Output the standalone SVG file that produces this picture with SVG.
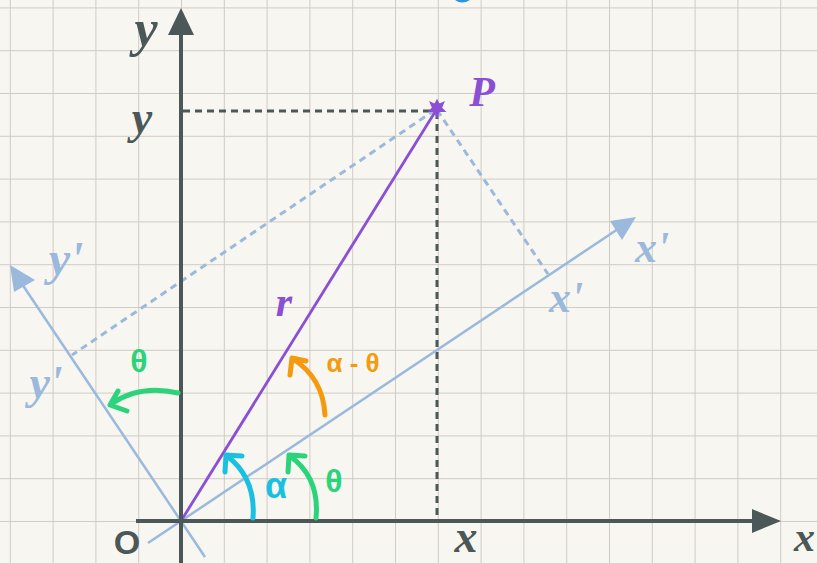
<svg xmlns="http://www.w3.org/2000/svg" width="817" height="563" viewBox="0 0 817 563">
<style>
.lbl{font-family:"Liberation Serif","DejaVu Serif",serif;font-style:italic;font-weight:bold;text-anchor:middle}
.sans{font-family:"Liberation Sans","DejaVu Sans",sans-serif;font-style:normal;text-anchor:middle;font-weight:bold}
.dark{fill:#4b5857}
.lb{fill:#9ab9dc}
.axis{stroke:#4b5857;stroke-width:4;fill:none}
.rot{stroke:#9ab9dc;stroke-width:2.5;fill:none}
.dd{stroke:#4b5857;stroke-width:3;stroke-dasharray:7 5;fill:none}
.bd{stroke:#9ab9dc;stroke-width:3;stroke-dasharray:7 5;fill:none}
.arc{stroke-width:5;fill:none;stroke-linecap:round;stroke-linejoin:round}
</style>
<defs>
<pattern id="grid" x="9.8" y="7.4" width="42.8" height="42.8" patternUnits="userSpaceOnUse">
<path d="M0 0H42.8M0 0V42.8" stroke="#d0cbc4" stroke-width="2" fill="none"/>
</pattern>
</defs>
<rect width="817" height="563" fill="#f8f6f1"/>
<rect width="817" height="563" fill="url(#grid)"/>
<path d="M455 0 Q462 5 470 0 Z" fill="#2b95e0"/>
<g id="connectors">
<line class="dd" x1="183" y1="111" x2="434" y2="111"/>
<line class="dd" x1="437" y1="112" x2="437" y2="519"/>
<line class="bd" x1="435" y1="110" x2="72" y2="355"/>
<line class="bd" x1="437" y1="110" x2="548" y2="274"/>
<line class="rot" x1="148" y1="543" x2="618" y2="229"/>
<polygon points="636,217 610,221 622,240" fill="#9ab9dc"/>
<line class="rot" x1="205" y1="557" x2="20" y2="281"/>
<polygon points="10,265 14,292 35,280" fill="#9ab9dc"/>
<line stroke="#8a4fd4" stroke-width="2.8" x1="181" y1="521" x2="435" y2="112"/>
<line class="axis" x1="136" y1="521" x2="758" y2="521"/>
<polygon points="781,521 752,509 752,533" fill="#4b5857"/>
<line class="axis" x1="181" y1="563" x2="181" y2="30"/>
<polygon points="181,8 168,35 194,35" fill="#4b5857"/>
<path class="arc" stroke="#2bd47a" d="M178 393 Q140 384 111 404 M118 391 L110 405 L127 411"/>
<path class="arc" stroke="#f59a0e" d="M325 415 Q323 378 293 359 M290 375 L292 358 L306 361"/>
<path class="arc" stroke="#19c0e0" d="M253 518 Q256 478 227 456 M225 472 L226 455 L242 456"/>
<path class="arc" stroke="#2bd47a" d="M316 518 Q320 478 290 456 M288 472 L289 455 L305 456"/>
</g>
<g id="P"><path d="M437 101 L439 105 L443 103 L441 108 L444 111 L439 111 L437 116 L435 111 L430 111 L433 108 L431 103 L435 105 Z" fill="#8a4fd4" stroke="#8a4fd4" stroke-width="2"/>
<text class="lbl" x="482" y="106" font-size="42" fill="#8a4fd4">P</text></g>
<g id="O"><text class="sans dark" x="127" y="554" font-size="34">O</text></g>
<g id="y-axis-label"><text class="lbl dark" x="146" y="46" font-size="52">y</text></g>
<g id="y-value"><text class="lbl dark" x="142" y="133" font-size="46">y</text></g>
<g id="x-value"><text class="lbl dark" x="466" y="552" font-size="46">x</text></g>
<g id="x-axis-label"><text class="lbl dark" x="815" y="551" font-size="42" style="text-anchor:end">x</text></g>
<g id="r"><text class="lbl" x="284" y="316" font-size="42" fill="#8a4fd4">r</text></g>
<g id="alpha"><text class="sans" x="276" y="498" font-size="36" fill="#19c0e0">α</text></g>
<g id="theta1"><text class="sans" x="334" y="492" font-size="32" fill="#2bd47a">θ</text></g>
<g id="alpha-theta"><text class="sans" x="353" y="372" font-size="26" fill="#f59a0e">α - θ</text></g>
<g id="theta2"><text class="sans" x="139" y="372" font-size="32" fill="#2bd47a">θ</text></g>
<g id="xprime1"><text class="lbl lb" x="652" y="262" font-size="44">x'</text></g>
<g id="xprime2"><text class="lbl lb" x="566" y="312" font-size="44">x'</text></g>
<g id="yprime1"><text class="lbl lb" x="66" y="275" font-size="48">y'</text></g>
<g id="yprime2"><text class="lbl lb" x="46" y="398" font-size="46">y'</text></g>
</svg>
